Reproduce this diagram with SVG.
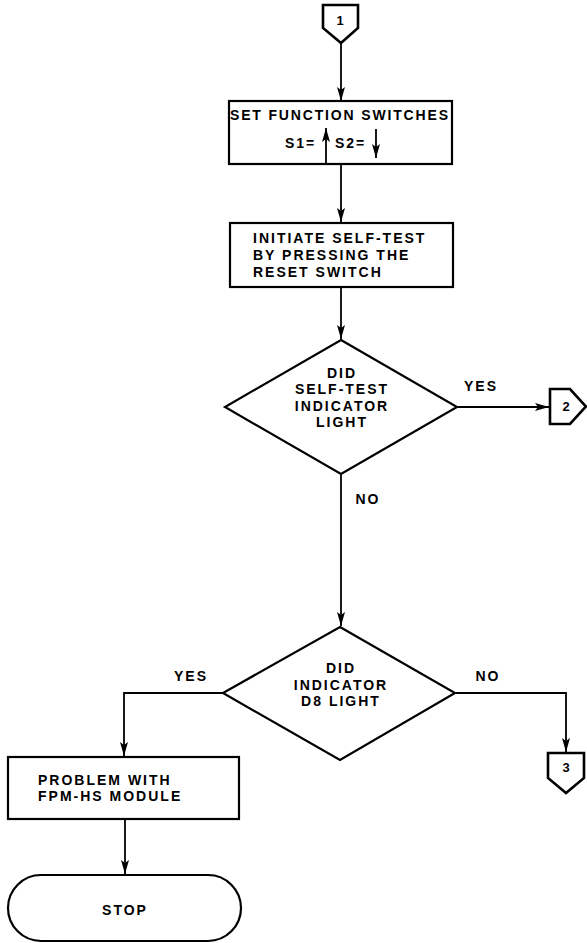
<svg xmlns="http://www.w3.org/2000/svg" width="587" height="943" viewBox="0 0 587 943">
  <style>
    .shape { fill: #fff; stroke: #000; stroke-width: 2.2; stroke-linejoin: miter; }
    .conn { fill: #fff; stroke: #000; stroke-width: 2.6; stroke-linejoin: miter; }
    .line { fill: none; stroke: #000; stroke-width: 1.8; }
    text { font-family: "Liberation Sans", Arial, Helvetica, sans-serif; font-weight: bold; font-size: 14px; letter-spacing: 2px; fill: #000; }
    .c { text-anchor: middle; }
    .num { font-size: 13px; letter-spacing: 0; }
  </style>
  <defs>
    <marker id="ah" viewBox="0 0 14 8" refX="14" refY="4" markerWidth="14" markerHeight="8" markerUnits="userSpaceOnUse" orient="auto">
      <path d="M0,0 L14,4 L0,8 L3,4 z" fill="#000"/>
    </marker>
  </defs>

  <!-- connectors -->
  <g id="connectors">
    <line class="line" x1="341" y1="43" x2="341" y2="101" marker-end="url(#ah)"/>
    <line class="line" x1="341" y1="165" x2="341" y2="222" marker-end="url(#ah)"/>
    <line class="line" x1="341" y1="288" x2="341" y2="339" marker-end="url(#ah)"/>
    <line class="line" x1="458" y1="407" x2="549" y2="407" marker-end="url(#ah)"/>
    <line class="line" x1="341" y1="475" x2="341" y2="626" marker-end="url(#ah)"/>
    <polyline class="line" points="223,693 124,693 124,756" marker-end="url(#ah)"/>
    <polyline class="line" points="456,693 566,693 566,752" marker-end="url(#ah)"/>
    <line class="line" x1="125" y1="820" x2="125" y2="874" marker-end="url(#ah)"/>
    <text x="481" y="391" class="c">YES</text>
    <text x="368" y="504" class="c">NO</text>
    <text x="191" y="681" class="c">YES</text>
    <text x="488" y="681" class="c">NO</text>
  </g>

  <!-- off-page connector 1 -->
  <g id="conn1">
    <path class="conn" d="M323,5 L358,5 L358,28 L341,43 L323,28 z"/>
    <text x="340" y="25" class="c num">1</text>
  </g>

  <!-- set function switches -->
  <g id="set-switches">
    <rect class="shape" x="229" y="101" width="223" height="63"/>
    <text x="230" y="120" textLength="220" lengthAdjust="spacing">SET FUNCTION SWITCHES</text>
    <text x="285" y="148">S1=</text>
    <line class="line" x1="326" y1="164" x2="326" y2="128" marker-end="url(#ah)"/>
    <text x="335" y="148">S2=</text>
    <line class="line" x1="376" y1="129" x2="376" y2="158" marker-end="url(#ah)"/>
  </g>

  <!-- initiate self-test -->
  <g id="self-test">
    <rect class="shape" x="230" y="223" width="223" height="64"/>
    <text x="253" y="243">INITIATE SELF-TEST</text>
    <text x="253" y="260">BY PRESSING THE</text>
    <text x="253" y="277">RESET SWITCH</text>
  </g>

  <!-- decision: self-test indicator -->
  <g id="decision-1">
    <path class="shape" d="M341,340 L457,407 L341,474 L225,407 z"/>
    <text x="342" y="378" class="c">DID</text>
    <text x="342" y="394" class="c">SELF-TEST</text>
    <text x="342" y="411" class="c">INDICATOR</text>
    <text x="342" y="427" class="c">LIGHT</text>
  </g>

  <!-- off-page connector 2 -->
  <g id="conn2">
    <path class="conn" d="M550,389 L570,389 L586,406.5 L570,424 L550,424 z"/>
    <text x="566" y="411" class="c num">2</text>
  </g>

  <!-- decision: D8 indicator -->
  <g id="decision-2">
    <path class="shape" d="M340,627 L455,693 L340,760 L223,693 z"/>
    <text x="341" y="673" class="c">DID</text>
    <text x="341" y="690" class="c">INDICATOR</text>
    <text x="341" y="706" class="c">D8 LIGHT</text>
  </g>

  <!-- off-page connector 3 -->
  <g id="conn3">
    <path class="conn" d="M548,753 L584,753 L584,778 L566,793 L548,778 z"/>
    <text x="566" y="772" class="c num">3</text>
  </g>

  <!-- problem with module -->
  <g id="problem">
    <rect class="shape" x="8" y="757" width="231" height="62"/>
    <text x="38" y="785">PROBLEM WITH</text>
    <text x="38" y="801">FPM-HS MODULE</text>
  </g>

  <!-- stop terminal -->
  <g id="stop">
    <rect class="shape" x="8" y="875" width="233" height="66" rx="33" ry="33"/>
    <text x="125" y="915" class="c">STOP</text>
  </g>
</svg>
